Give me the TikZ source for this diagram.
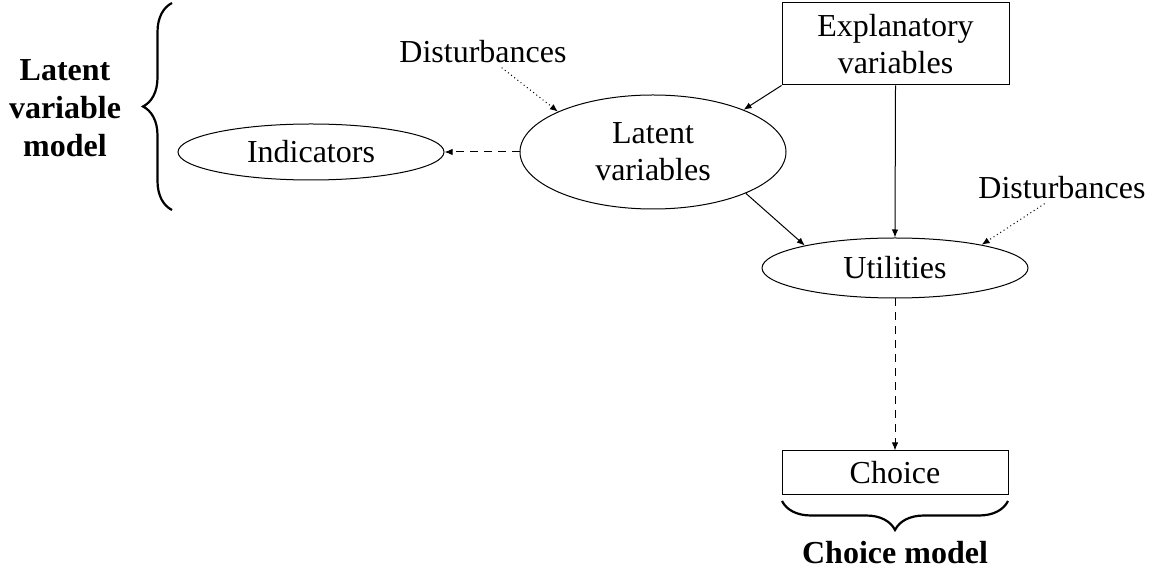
\documentclass[tikz,border=0pt]{standalone}
\usepackage{fontspec}
\setmainfont{Liberation Serif}
\usetikzlibrary{shapes.geometric,arrows.meta,decorations.pathreplacing}
\begin{document}
\begin{tikzpicture}[x=0.5pt,y=-0.5pt,
  every node/.style={font=\fontsize{16}{18.5}\selectfont},
  ell/.style={draw, ellipse, inner sep=0pt, line width=0.5pt, align=center},
  box/.style={draw, rectangle, inner sep=0pt, line width=0.5pt, align=center},
  lbl/.style={inner sep=2pt},
  boldlbl/.style={font=\fontsize{16}{19}\selectfont\bfseries, align=center},
  arr/.style={-{Latex[length=4pt,width=3.2pt]}, line width=0.5pt},
  dasharr/.style={arr, dash pattern=on 4pt off 3pt},
  dotarr/.style={arr, dash pattern=on 0.5pt off 1.5pt},
  bracestyle/.style={decorate, decoration={brace, amplitude=14.5pt}, line width=1.1pt}
]
\useasboundingbox (0,0) rectangle (1171,576);

\node[box, minimum width=113.5pt, minimum height=41pt] (expl) at (895.5,44) {Explanatory\\variables};
\node[ell, minimum width=133pt, minimum height=57pt] (lat) at (653,152) {Latent\\variables};
\node[ell, minimum width=133pt, minimum height=28pt] (ind) at (311,152) {Indicators};
\node[ell, minimum width=133pt, minimum height=30pt] (util) at (895,268) {Utilities};
\node[box, minimum width=113pt, minimum height=21.5pt] (choice) at (895,472.5) {Choice};
\node[lbl] (d1) at (483,52) {Disturbances};
\node[lbl] (d2) at (1062,188) {Disturbances};
\node[boldlbl] (lvm) at (65,108) {Latent\\variable\\model};
\node[boldlbl] (cm) at (895,553) {Choice model};

\draw[dotarr] (d1.-40) -- (lat.157);
\draw[dotarr] (d2.222) -- (util.15);
\draw[dasharr] (lat.west) -- (ind.east);
\draw[arr] (expl.south west) -- (lat.25);
\draw[arr] (lat.-24) -- (util.166);
\draw[arr] (expl.south) -- (util.north);
\draw[dasharr] (util.south) -- (choice.north);

\draw[bracestyle] (172,210) -- (172,3);
\draw[bracestyle] (1008,501) -- (782,501);
\end{tikzpicture}
\end{document}
